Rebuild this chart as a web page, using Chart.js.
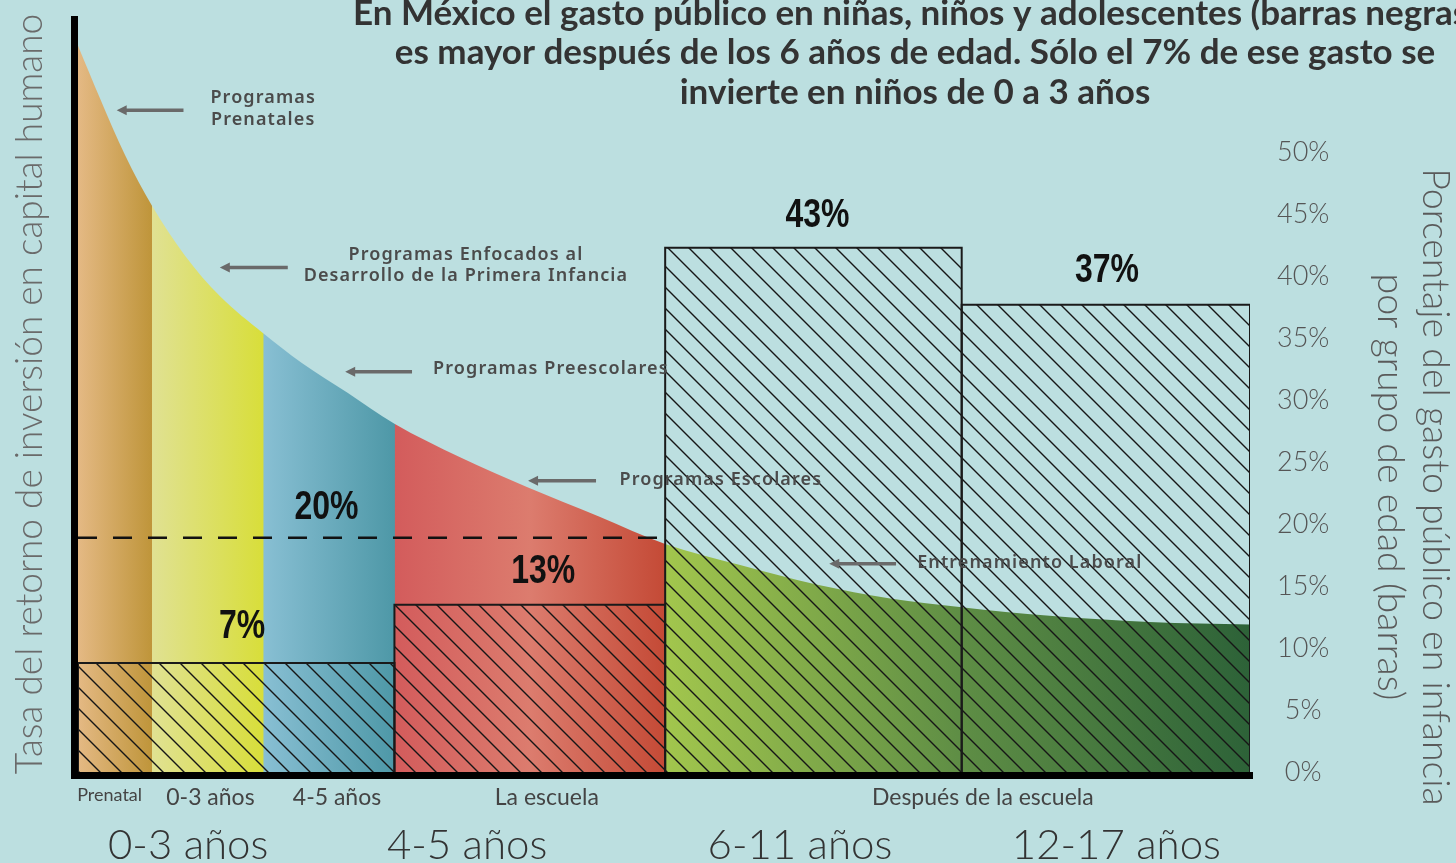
<!DOCTYPE html>
<html><head><meta charset="utf-8">
<script src="https://cdn.jsdelivr.net/npm/chart.js@4/dist/chart.umd.min.js"></script>
<style>
html,body{margin:0;padding:0;background:#bcdfe0;}
#wrap{width:1456px;height:863px;position:relative;}
</style></head><body>
<div id="wrap"><canvas id="c"></canvas></div>
<script>
// ---------- DATA ----------
const segmentLabels = ['Prenatal', '0-3 años', '4-5 años', 'La escuela', 'Después de la escuela'];
const segmentBounds = [0, 6.3, 15.8, 27.0, 50.1, 100];
const segmentLabelPos = [2.7, 11.3, 22.1, 40.0, 77.2];
const ageGroups = ['0-3 años', '4-5 años', '6-11 años', '12-17 años'];
const ageGroupPos = [9.4, 33.2, 61.6, 88.6];

// return-on-investment curve
const returnX = [0, 1.9, 4.0, 6.3, 9.1, 12.1, 15.8, 19.1, 23.0, 27.0, 32.6, 38.3, 44.5, 50.1, 56.5, 63.1, 69.3, 75.4, 82.9, 91.4, 100];
const returnY = [58.6, 54.3, 49.8, 45.7, 41.7, 38.4, 35.4, 33.0, 30.6, 28.1, 25.4, 23.0, 20.6, 18.4, 16.7, 15.1, 14.0, 13.3, 12.6, 12.1, 11.9];

// public spending bars (hatched)
const barStart = [0, 27.0, 50.1, 75.4];
const barEnd = [27.0, 50.1, 75.4, 100];
const barValue = [8.8, 13.5, 42.3, 37.7];
const barLabel = ['7%', '13%', '43%', '37%'];
const cumulativeLabel = '20%';
const dashedLevel = 18.9;
const dashedEnd = 50.1;
const rightTicks = [0, 5, 10, 15, 20, 25, 30, 35, 40, 45, 50];

const segmentColors = [
  ['#e4b984', '#bf953a'],
  ['#e0e192', '#d8de3a'],
  ['#88bfd3', '#4e98a7'],
  ['#d35c5c', '#dc7c6e', '#c44a36'],
  ['#a2c64d', '#5f8e45', '#2d6238']
];

const titleLines = [
  'En México el gasto público en niñas, niños y adolescentes (barras negras)',
  'es mayor después de los 6 años de edad. Sólo el 7% de ese gasto se',
  'invierte en niños de 0 a 3 años'
];
const leftTitle = 'Tasa del retorno de inversión en capital humano';
const rightTitle = ['Porcentaje del gasto público en infancia', 'por grupo de edad (barras)'];

// annotation texts with anchors in data units
const notes = [
  { lines: ['Programas', 'Prenatales'], x: 15.8, y: [54.4, 52.6], align: 'center', arrow: [9.0, 3.3, 53.4] },
  { lines: ['Programas Enfocados al', 'Desarrollo de la Primera Infancia'], x: 33.1, y: [41.7, 40.0], align: 'center', arrow: [17.9, 12.1, 40.7] },
  { lines: ['Programas Preescolares'], x: 30.3, y: [32.5], align: 'left', arrow: [28.5, 22.8, 32.3] },
  { lines: ['Programas Escolares'], x: 46.2, y: [23.6], align: 'left', arrow: [44.2, 38.4, 23.5] },
  { lines: ['Entrenamiento Laboral'], x: 71.6, y: [16.9], align: 'left', arrow: [69.8, 64.1, 16.8] }
];
const pctNotes = [
  { t: barLabel[0], x: 14.0, y: 11.7 },
  { t: cumulativeLabel, x: 21.2, y: 21.3 },
  { t: barLabel[1], x: 39.7, y: 16.1 },
  { t: barLabel[2], x: 63.1, y: 44.9 },
  { t: barLabel[3], x: 87.8, y: 40.4 }
];

// ---------- STYLES ----------
const hatchPattern = (() => {
  const s = 21;
  const c = document.createElement('canvas'); c.width = s; c.height = s;
  const g = c.getContext('2d');
  g.strokeStyle = '#161616'; g.lineWidth = 1.4;
  g.beginPath();
  for (const k of [-1, 0, 1]) { g.moveTo(-2, -2 + k * s); g.lineTo(s + 2, s + 2 + k * s); }
  g.stroke();
  return g.createPattern(c, 'repeat');
})();

let gradCache = null, gradKey = '';
function returnGradient(context) {
  const chart = context.chart;
  const ca = chart.chartArea;
  if (!ca) return '#ccc';
  const key = ca.left + ',' + ca.right;
  if (gradCache && gradKey === key) return gradCache;
  const xs = chart.scales.x;
  const x0 = xs.getPixelForValue(0), x1 = xs.getPixelForValue(100);
  const g = chart.ctx.createLinearGradient(x0, 0, x1, 0);
  segmentColors.forEach((cols, i) => {
    const a = segmentBounds[i] / 100, b = segmentBounds[i + 1] / 100;
    cols.forEach((c, j) => {
      let f = a + (b - a) * j / (cols.length - 1);
      if (j === 0 && i > 0) f += 0.0005;
      g.addColorStop(Math.min(1, f), c);
    });
  });
  gradCache = g; gradKey = key;
  return g;
}

// ---------- DATASETS ----------
const datasets = [];
datasets.push({
  label: 'Retorno', data: returnX.map((x, i) => ({ x, y: returnY[i] })),
  fill: 'origin', backgroundColor: returnGradient, borderColor: 'rgba(0,0,0,0)', borderWidth: 0,
  pointRadius: 0, cubicInterpolationMode: 'monotone', order: 3
});
barStart.forEach((s, i) => {
  datasets.push({
    label: ageGroups[i],
    data: [{ x: s, y: 0 }, { x: s, y: barValue[i] }, { x: barEnd[i], y: barValue[i] }, { x: barEnd[i], y: 0 }],
    fill: 'origin', backgroundColor: hatchPattern, borderColor: '#1a1a1a', borderWidth: 2,
    pointRadius: 0, tension: 0, order: 2
  });
});
datasets.push({
  label: 'ref', data: [{ x: 0, y: dashedLevel }, { x: dashedEnd, y: dashedLevel }],
  borderColor: '#111', borderWidth: 2.5, borderDash: [19, 16], pointRadius: 0, fill: false, order: 1
});

// ---------- OVERLAY PLUGIN ----------
const overlay = {
  id: 'overlay',
  afterDatasetsDraw(chart) {
    const { ctx, chartArea: ca, scales: { x, y } } = chart;
    ctx.save();
    // axis lines
    ctx.fillStyle = '#000';
    ctx.fillRect(ca.left - 7, ca.top, 7, ca.bottom + 7 - ca.top);
    ctx.fillRect(ca.left - 7, ca.bottom, ca.right + 3 - (ca.left - 7), 7);

    // notes
    ctx.textBaseline = 'middle';
    notes.forEach(n => {
      ctx.fillStyle = '#4b4b4b';
      ctx.font = '600 18px "Noto Sans"';
      ctx.letterSpacing = '1.1px';
      ctx.textAlign = n.align;
      n.lines.forEach((l, i) => ctx.fillText(l, x.getPixelForValue(n.x), y.getPixelForValue(n.y[i])));
      ctx.letterSpacing = '0px';
      const [a, b, v] = n.arrow;
      const xa = x.getPixelForValue(a), xb = x.getPixelForValue(b), yy = y.getPixelForValue(v);
      ctx.strokeStyle = '#6a6a6a';
      ctx.lineWidth = 3.5;
      ctx.beginPath(); ctx.moveTo(xa, yy); ctx.lineTo(xb + 6, yy); ctx.stroke();
      ctx.fillStyle = '#6a6a6a';
      ctx.beginPath(); ctx.moveTo(xb, yy); ctx.lineTo(xb + 10, yy - 5); ctx.lineTo(xb + 10, yy + 5); ctx.closePath(); ctx.fill();
    });

    // percent labels (condensed bold)
    ctx.fillStyle = '#111';
    ctx.font = 'bold 40px "Liberation Sans", Arial, sans-serif';
    ctx.textAlign = 'center';
    pctNotes.forEach(p => {
      ctx.save();
      ctx.translate(x.getPixelForValue(p.x), y.getPixelForValue(p.y));
      ctx.scale(0.8, 1);
      ctx.fillText(p.t, 0, 0);
      ctx.restore();
    });
    ctx.restore();
  },
  afterDraw(chart) {
    const { ctx } = chart;
    ctx.save();
    // title
    ctx.fillStyle = '#333';
    ctx.font = 'bold 35px Lato';
    ctx.textAlign = 'center';
    ctx.textBaseline = 'middle';
    const ty = [14, 53, 93];
    titleLines.forEach((l, i) => ctx.fillText(l, 915, ty[i]));
    // right title
    ctx.fillStyle = '#5a5a5a';
    ctx.font = '300 37.5px Lato';
    ctx.translate(1435, 487);
    ctx.rotate(Math.PI / 2);
    ctx.fillText(rightTitle[0], 0, 0);
    ctx.fillText(rightTitle[1], 0, 45);
    ctx.restore();
  }
};

function noPad(s) { s.paddingTop = 0; s.paddingBottom = 0; s.paddingLeft = 0; s.paddingRight = 0; }
const noGrid = { display: false, drawTicks: false };

// ---------- CHART ----------
new Chart(document.getElementById('c'), {
  type: 'line',
  data: { datasets },
  plugins: [overlay],
  options: {
    responsive: true, maintainAspectRatio: false, animation: false,
    layout: { padding: { top: 16, left: 0, right: 0, bottom: 0 } },
    plugins: { legend: { display: false }, tooltip: { enabled: false }, title: { display: false } },
    scales: {
      x: {
        type: 'linear', min: 0, max: 100, position: 'bottom', weight: 0,
        grid: noGrid, border: { display: false },
        afterBuildTicks: s => { s.ticks = segmentLabelPos.map(v => ({ value: v })); },
        afterFit: s => { s.height = 40; noPad(s); },
        ticks: {
          autoSkip: false, maxRotation: 0, padding: 12, color: '#444',
          callback: (v, i) => segmentLabels[i],
          font: c => ({ family: 'Lato', size: c.index === 0 ? 18 : 23, weight: '400' })
        }
      },
      x2: {
        type: 'linear', min: 0, max: 100, position: 'bottom', weight: 1,
        grid: noGrid, border: { display: false },
        afterBuildTicks: s => { s.ticks = ageGroupPos.map(v => ({ value: v })); },
        afterFit: s => { s.height = 51; noPad(s); },
        ticks: {
          autoSkip: false, maxRotation: 0, padding: 8, color: '#333',
          callback: (v, i) => ageGroups[i],
          font: { family: 'Lato', size: 42, weight: '300' }
        }
      },
      y: {
        type: 'linear', min: 0, max: 61, position: 'right',
        grid: noGrid, border: { display: false },
        afterBuildTicks: s => { s.ticks = rightTicks.map(v => ({ value: v })); },
        afterFit: s => { s.width = 206; noPad(s); },
        ticks: {
          padding: 27, crossAlign: 'center', color: '#555',
          callback: v => v + '%',
          font: { family: 'Lato', size: 27, weight: '300' }
        }
      },
      yL: {
        type: 'linear', min: 0, max: 61, position: 'left',
        grid: noGrid, border: { display: false },
        ticks: { display: false },
        afterFit: s => { s.width = 78; noPad(s); },
        title: {
          display: true, text: leftTitle, color: '#6a6a6a',
          font: { family: 'Lato', size: 37, weight: '300' }, padding: { top: 8, bottom: 0 }
        }
      }
    }
  }
});
</script>
</body></html>
